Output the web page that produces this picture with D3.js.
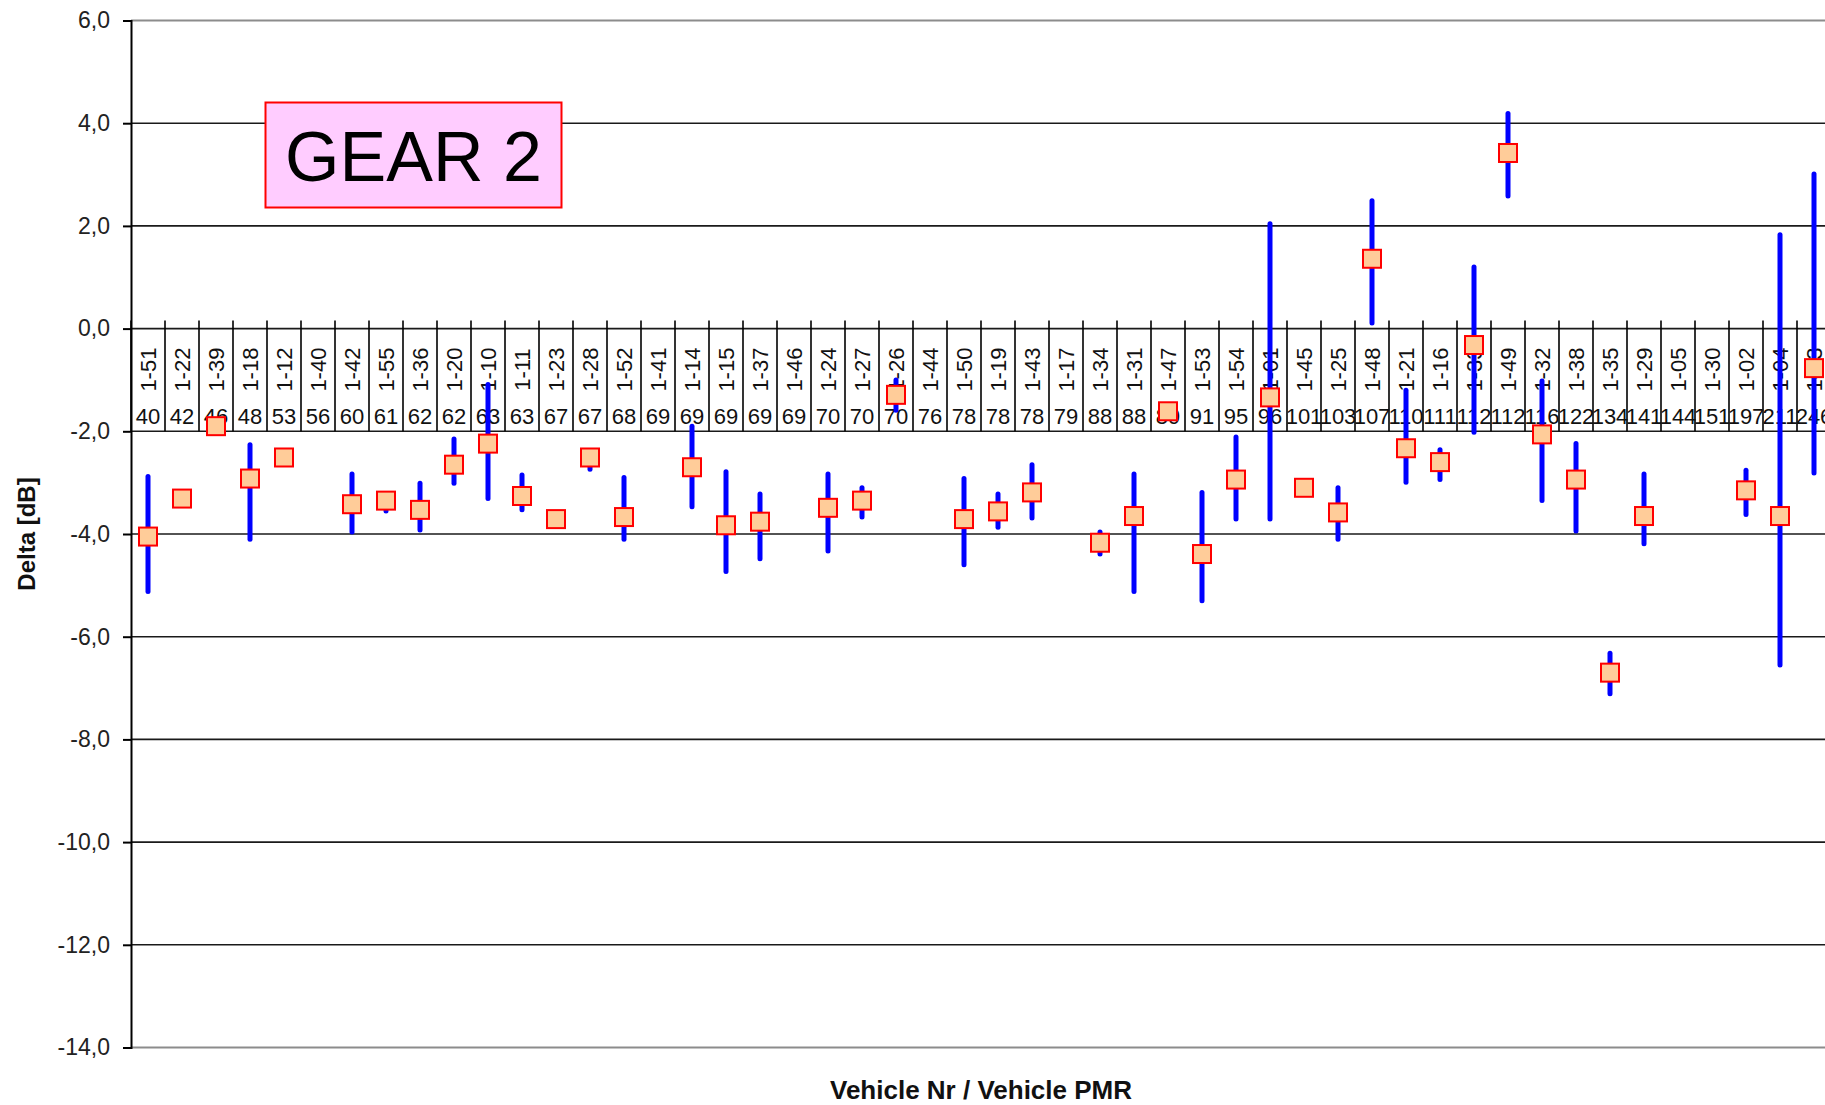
<!DOCTYPE html>
<html>
<head>
<meta charset="utf-8">
<script src="https://cdn.jsdelivr.net/npm/d3@7"></script>
<style>
  html, body { margin: 0; padding: 0; background: #fff; overflow: hidden; }
  svg { display: block; }
  text { font-family: "Liberation Sans", Arial, sans-serif; }
</style>
</head>
<body>
<svg id="chart" width="1825" height="1105"></svg>
<script>
// ---- data ----
const vehicles = ["1-51","1-22","1-39","1-18","1-12","1-40","1-42","1-55","1-36","1-20",
  "1-10","1-11","1-23","1-28","1-52","1-41","1-14","1-15","1-37","1-46",
  "1-24","1-27","1-26","1-44","1-50","1-19","1-43","1-17","1-34","1-31",
  "1-47","1-53","1-54","1-01","1-45","1-25","1-48","1-21","1-16","1-33",
  "1-49","1-32","1-38","1-35","1-29","1-05","1-30","1-02","1-04","1-03"];
const pmr = ["40","42","46","48","53","56","60","61","62","62",
  "63","63","67","67","68","69","69","69","69","69",
  "70","70","70","76","78","78","78","79","88","88",
  "89","91","95","96","101","103","107","110","111","112",
  "112","116","122","134","141","144","151","197","211","246"];
const meanDelta = [-4.05,-3.31,-1.90,-2.92,-2.51,null,-3.42,-3.35,-3.53,-2.65,
  -2.24,-3.26,-3.71,-2.51,-3.67,null,-2.70,-3.83,-3.76,null,
  -3.49,-3.35,-1.29,null,-3.71,-3.56,-3.19,null,-4.17,-3.65,
  -1.61,-4.39,-2.94,-1.34,-3.10,-3.58,1.36,-2.33,-2.60,-0.32,
  3.42,-2.06,-2.94,-6.70,-3.65,null,null,-3.15,-3.65,-0.77];
const maxDelta = [-2.88,null,null,-2.26,null,null,-2.83,-3.30,-3.01,-2.15,
  -1.09,-2.85,null,-2.45,-2.90,null,-1.90,-2.79,-3.22,null,
  -2.83,-3.10,-1.00,null,-2.92,-3.22,-2.65,null,-3.96,-2.83,
  null,-3.19,-2.11,2.04,null,-3.10,2.49,-1.20,-2.36,1.20,
  4.19,-1.02,-2.24,-6.32,-2.83,null,null,-2.76,1.83,3.01];
const minDelta = [-5.12,null,null,-4.10,null,null,-3.96,-3.55,-3.92,-3.01,
  -3.31,-3.53,null,-2.74,-4.10,null,-3.47,-4.73,-4.48,null,
  -4.33,-3.67,-1.59,null,-4.60,-3.87,-3.69,null,-4.39,-5.12,
  null,-5.30,-3.71,-3.71,null,-4.10,0.11,-2.99,-2.94,-2.02,
  2.58,-3.35,-3.94,-7.11,-4.19,null,null,-3.62,-6.55,-2.81];
const yTicks = [6,4,2,0,-2,-4,-6,-8,-10,-12,-14];

// ---- layout ----
const svg = d3.select("#chart");
const plotLeft = 131, plotRight = 1831, plotTop = 20.5, plotBottom = 1047.5;

const x = d3.scaleBand().domain(vehicles).range([plotLeft, plotRight]).paddingInner(0).paddingOuter(0);
const y = d3.scaleLinear().domain([-14, 6]).range([plotBottom, plotTop]);

const fmt = v => d3.format(".1f")(v).replace(".", ",").replace("\u2212", "-");

// gridlines
const gridG = svg.append("g");
gridG.selectAll("line").data(yTicks).join("line")
  .attr("x1", plotLeft).attr("x2", plotRight)
  .attr("y1", d => y(d)).attr("y2", d => y(d))
  .attr("stroke", d => (d === 6 || d === -14) ? "#8c8c8c" : "#1a1a1a")
  .attr("stroke-width", d => (d === 6 || d === -14) ? 2 : 1.6);

// y axis
const yAxis = d3.axisLeft(y).tickValues(yTicks).tickSize(8).tickPadding(13).tickFormat(fmt);
const yG = svg.append("g").attr("transform", `translate(${plotLeft},0)`).call(yAxis);
yG.select(".domain").attr("stroke", "#000").attr("stroke-width", 2);
yG.selectAll(".tick line").attr("stroke", "#000").attr("stroke-width", 2);
yG.selectAll(".tick text").attr("font-size", 23).attr("fill", "#222")
  .attr("font-family", "'Liberation Sans', Arial, sans-serif");

// category table between 0 and -2
const tableTop = y(0), tableBottom = y(-2);
const bounds = vehicles.map(v => x(v)).concat([plotRight]);
svg.append("g").selectAll("line").data(bounds).join("line")
  .attr("x1", d => d).attr("x2", d => d)
  .attr("y1", tableTop - 8).attr("y2", tableBottom)
  .attr("stroke", "#000").attr("stroke-width", 1.6);

const labG = svg.append("g");
labG.selectAll("text.veh").data(vehicles).join("text")
  .attr("class", "veh")
  .attr("transform", d => `translate(${x(d) + x.bandwidth() / 2 + 7.5},${tableTop + 41}) rotate(-90)`)
  .attr("text-anchor", "middle")
  .attr("font-size", 22).attr("fill", "#111")
  .text(d => d);
labG.selectAll("text.pmr").data(vehicles).join("text")
  .attr("class", "pmr")
  .attr("x", d => x(d) + x.bandwidth() / 2)
  .attr("y", tableBottom - 7)
  .attr("text-anchor", "middle")
  .attr("font-size", 22).attr("fill", "#111")
  .text((d, i) => pmr[i]);

// range bars
const idx = d3.range(vehicles.length);
svg.append("g").selectAll("line").data(idx.filter(i => maxDelta[i] !== null)).join("line")
  .attr("x1", i => x(vehicles[i]) + x.bandwidth() / 2)
  .attr("x2", i => x(vehicles[i]) + x.bandwidth() / 2)
  .attr("y1", i => y(maxDelta[i]))
  .attr("y2", i => y(minDelta[i]))
  .attr("stroke", "#0000ff").attr("stroke-width", 5).attr("stroke-linecap", "round");

// mean markers
const ms = 18;
svg.append("g").selectAll("rect").data(idx.filter(i => meanDelta[i] !== null)).join("rect")
  .attr("x", i => x(vehicles[i]) + x.bandwidth() / 2 - ms / 2)
  .attr("y", i => y(meanDelta[i]) - ms / 2)
  .attr("width", ms).attr("height", ms)
  .attr("fill", "#ffcc99").attr("stroke", "#ff0000").attr("stroke-width", 2);

// GEAR 2 box
svg.append("rect").attr("x", 265.5).attr("y", 102.5).attr("width", 296).attr("height", 105)
  .attr("fill", "#ffccff").attr("stroke", "#ff0000").attr("stroke-width", 2);
svg.append("text").attr("x", 413.5).attr("y", 181).attr("text-anchor", "middle")
  .attr("font-size", 70).attr("fill", "#000").text("GEAR 2");

// axis titles
svg.append("text")
  .attr("transform", `translate(35,${(plotTop + plotBottom) / 2}) rotate(-90)`)
  .attr("text-anchor", "middle").attr("font-size", 24).attr("font-weight", "bold")
  .attr("fill", "#111").text("Delta [dB]");
svg.append("text")
  .attr("x", (plotLeft + plotRight) / 2).attr("y", 1099)
  .attr("text-anchor", "middle").attr("font-size", 26).attr("font-weight", "bold")
  .attr("fill", "#111").text("Vehicle Nr / Vehicle PMR");
</script>
</body>
</html>
